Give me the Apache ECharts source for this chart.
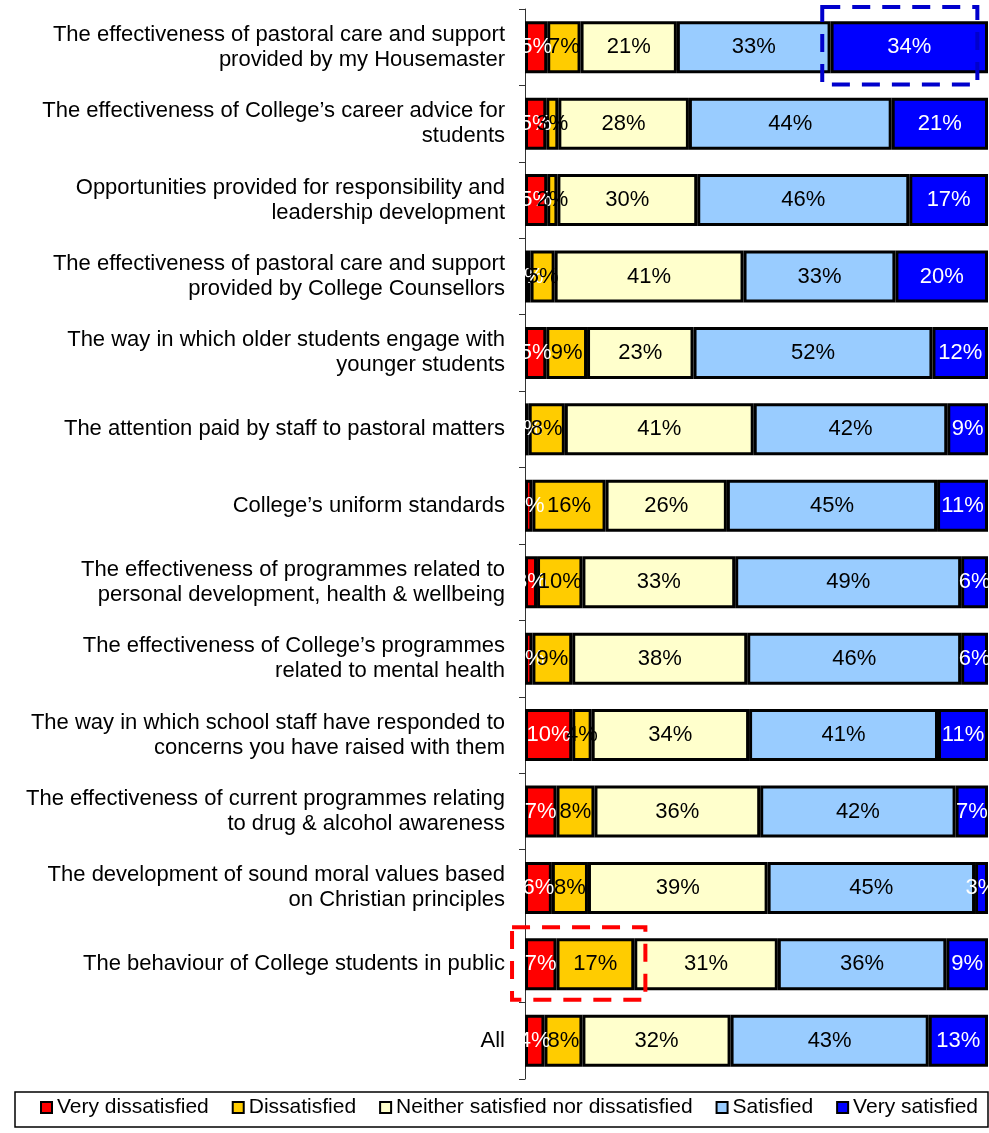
<!DOCTYPE html>
<html>
<head>
<meta charset="utf-8">
<script src="https://cdn.jsdelivr.net/npm/echarts@6/dist/echarts.min.js"></script>
<style>
  html, body { margin: 0; padding: 0; background: #fff; }
  #graph { width: 989px; height: 1133px; }
</style>
</head>
<body>
<div id="graph"></div>
<script>
var categories = [
    'The effectiveness of pastoral care and support\nprovided by my Housemaster',
    'The effectiveness of College\u2019s career advice for\nstudents',
    'Opportunities provided for responsibility and\nleadership development',
    'The effectiveness of pastoral care and support\nprovided by College Counsellors',
    'The way in which older students engage with\nyounger students',
    'The attention paid by staff to pastoral matters',
    'College\u2019s uniform standards',
    'The effectiveness of programmes related to\npersonal development, health & wellbeing',
    'The effectiveness of College\u2019s programmes\nrelated to mental health',
    'The way in which school staff have responded to\nconcerns you have raised with them',
    'The effectiveness of current programmes relating\nto drug & alcohol awareness',
    'The development of sound moral values based\non Christian principles',
    'The behaviour of College students in public',
    'All'
];

var veryDissatisfied = [4.8, 4.6, 4.8, 1.2, 4.6, 0.8, 1.6, 2.6, 1.6, 10.2, 6.8, 5.8, 6.8, 4.2];
var dissatisfied     = [7.2, 2.6, 2.2, 5.2, 8.8, 7.8, 15.8, 9.8, 8.6, 4.2, 8.2, 7.8, 16.8, 8.2];
var neither          = [20.8, 28.2, 30.2, 40.8, 23.0, 40.8, 26.2, 33.0, 37.8, 34.0, 35.8, 38.8, 31.0, 32.0];
var satisfied        = [33.2, 43.8, 45.8, 32.8, 51.6, 41.8, 45.4, 48.8, 46.2, 40.8, 42.2, 44.8, 36.4, 42.8];
var verySatisfied    = [34.0, 20.8, 17.0, 20.0, 12.0, 8.8, 11.0, 5.8, 5.8, 10.8, 7.0, 2.8, 9.0, 12.8];

var seriesNames = ['Very dissatisfied', 'Dissatisfied', 'Neither satisfied nor dissatisfied', 'Satisfied', 'Very satisfied'];
var seriesColors = ['#ff0000', '#ffcc00', '#ffffcc', '#99ccff', '#0000ff'];
var labelColors = ['#ffffff', '#000000', '#000000', '#000000', '#ffffff'];
var seriesData = [veryDissatisfied, dissatisfied, neither, satisfied, verySatisfied];

var chart = echarts.init(document.getElementById('graph'));

var series = seriesData.map(function (values, i) {
    return {
        name: seriesNames[i],
        type: 'bar',
        stack: 'total',
        data: values,
        barWidth: 52,
        itemStyle: {
            color: seriesColors[i],
            borderColor: '#000',
            borderWidth: 3
        },
        label: {
            show: true,
            position: 'inside',
            color: labelColors[i],
            fontFamily: 'Liberation Sans',
            fontSize: 22,
            formatter: function (p) { return Math.round(p.value) + '%'; }
        },
        emphasis: { disabled: true }
    };
});

var option = {
    animation: false,
    textStyle: { fontFamily: 'Liberation Sans' },
    grid: { left: 525, right: 1, top: 9, bottom: 54 },
    xAxis: {
        type: 'value',
        min: 0,
        max: 100,
        show: false
    },
    yAxis: {
        type: 'category',
        inverse: true,
        data: categories,
        axisLine: { show: true, lineStyle: { color: '#333', width: 1 } },
        axisTick: { show: true, length: 6, lineStyle: { color: '#333' } },
        axisLabel: {
            color: '#000',
            fontSize: 22,
            lineHeight: 25,
            margin: 20,
            align: 'right'
        }
    },
    legend: {
        bottom: 10,
        left: 35,
        itemWidth: 11,
        itemHeight: 11,
        itemGap: 23,
        icon: 'rect',
        textStyle: { fontSize: 21, color: '#000' },
        data: seriesNames.map(function (n, i) {
            return { name: n, itemStyle: { color: seriesColors[i], borderColor: '#000', borderWidth: 2 } };
        })
    },
    series: series
};

chart.setOption(option);

// dashed highlight boxes placed from the data scale
var c0 = chart.convertToPixel({ gridIndex: 0 }, [0, 0]);
var c1 = chart.convertToPixel({ gridIndex: 0 }, [0, 1]);
var c12 = chart.convertToPixel({ gridIndex: 0 }, [0, 12]);
var step = c1[1] - c0[1];
var x64 = chart.convertToPixel({ gridIndex: 0 }, [64.2, 0])[0];
var x97 = chart.convertToPixel({ gridIndex: 0 }, [97.7, 0])[0];
var xm3 = chart.convertToPixel({ gridIndex: 0 }, [-2.8, 0])[0];
var x26 = chart.convertToPixel({ gridIndex: 0 }, [26, 0])[0];

chart.setOption({
    graphic: [
        {
            type: 'rect',
            shape: { x: 15, y: 1092, width: 973, height: 35 },
            style: { fill: 'none', stroke: '#000', lineWidth: 1.5 },
            z: -1
        },
        {
            type: 'rect',
            shape: { x: x64, y: c0[1] - step / 2 - 2, width: x97 - x64, height: step + 1 },
            style: { fill: 'none', stroke: '#0000cc', lineWidth: 4, lineDash: [18, 12] },
            z: 10
        },
        {
            type: 'rect',
            shape: { x: xm3, y: c12[1] - step / 2 + 1, width: x26 - xm3, height: step * 0.95 },
            style: { fill: 'none', stroke: '#ff0000', lineWidth: 4, lineDash: [18, 12] },
            z: 10
        }
    ]
});
</script>
</body>
</html>
